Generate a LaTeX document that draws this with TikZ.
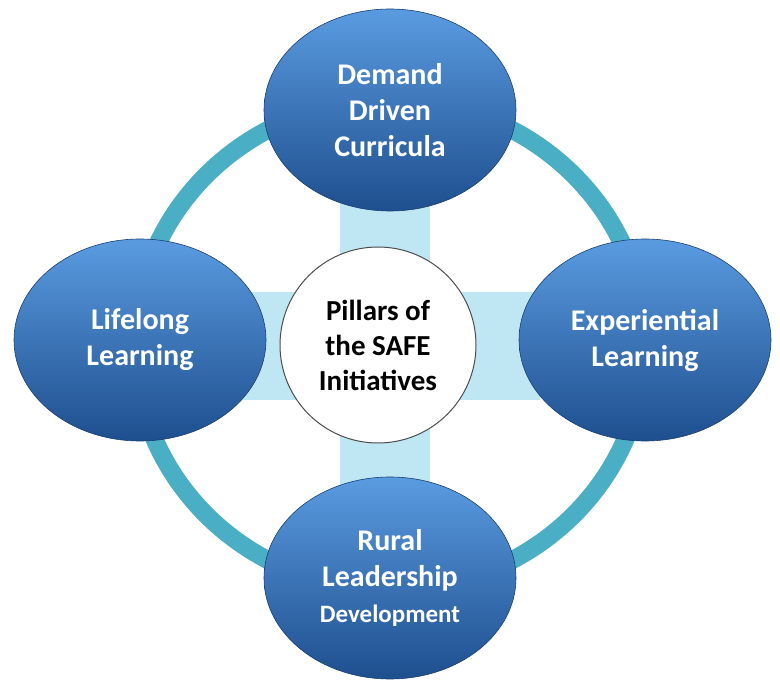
\documentclass[tikz,border=0pt]{standalone}
\usepackage{fontspec}
\setmainfont{Carlito}
\usetikzlibrary{shapes.geometric}
\definecolor{ringc}{HTML}{4AAFC4}
\definecolor{barc}{HTML}{BFE6F3}
\definecolor{btop}{HTML}{5A9BE0}
\definecolor{bbot}{HTML}{1E4F8E}
\tikzset{
  pill/.style={ellipse, minimum width=252pt, minimum height=202pt, top color=btop, bottom color=bbot, draw=bbot!80!black, line width=0.6pt, text=white, font=\bfseries\fontsize{30}{36}\selectfont, align=center, inner sep=0pt},
  hub/.style={circle, minimum size=196pt, fill=white, draw=black!70, line width=1pt, font=\bfseries\fontsize{29}{35}\selectfont, align=center, inner sep=0pt},
}
\begin{document}
\begin{tikzpicture}[x=1pt,y=-1pt]
\useasboundingbox (0,0) rectangle (780,692);
\coordinate (c) at (390,345);
\draw[ringc, line width=18pt] (c) ellipse [x radius=255, y radius=245];
\fill[barc] (340,195) rectangle (430,490);
\fill[barc] (240,292) rectangle (540,400);
\node[hub] (h) at (378,345) {Pillars of\\the SAFE\\Initiatives};
\node[pill] (t) at (390,110) {Demand\\Driven\\Curricula};
\node[pill] (l) at (140,340) {Lifelong\\Learning};
\node[pill] (r) at (645,340) {Experiential\\Learning};
\node[pill] (b) at (390,578) {Rural\\Leadership\\{\fontsize{25}{30}\selectfont Development}};
\end{tikzpicture}
\end{document}
